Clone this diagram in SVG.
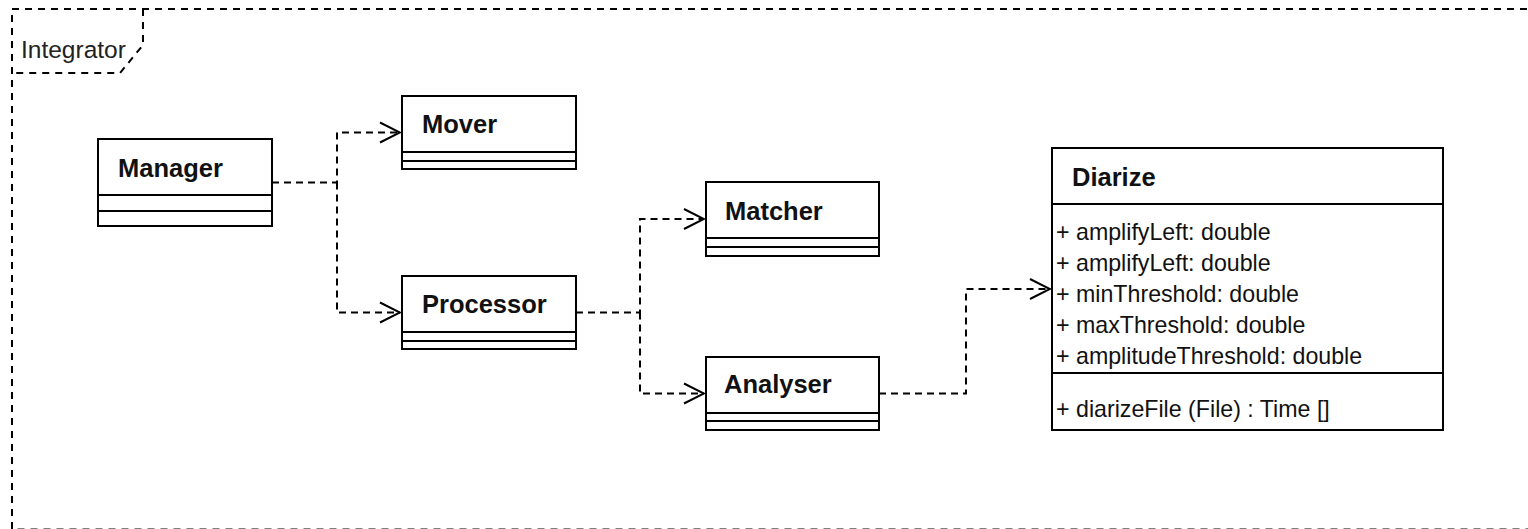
<svg xmlns="http://www.w3.org/2000/svg" width="1528" height="529" viewBox="0 0 1528 529">
  <defs>
    <style>
      .box { fill: #fff; stroke: #000; stroke-width: 2; }
      .sep { stroke: #000; stroke-width: 2; fill: none; }
      .name { font-family: "Liberation Sans", Arial, sans-serif; font-weight: bold; font-size: 25.5px; fill: #111; }
      .attr { font-family: "Liberation Sans", Arial, sans-serif; font-size: 23.2px; fill: #111; }
      .label { font-family: "Liberation Sans", Arial, sans-serif; font-size: 24.5px; fill: #222; }
      .frame { fill: none; stroke: #000; stroke-width: 2; stroke-dasharray: 7 6; }
      .dep { fill: none; stroke: #000; stroke-width: 2; stroke-dasharray: 7 5; }
    </style>
    <marker id="open" viewBox="-22 -12 24 24" refX="0" refY="0" markerWidth="24" markerHeight="24" markerUnits="userSpaceOnUse" orient="auto">
      <path d="M-20,-10 L0,0 L-20,10" fill="none" stroke="#000" stroke-width="2"/>
    </marker>
  </defs>
  <rect width="1528" height="529" fill="#fff"/>

  <!-- package frame "Integrator" -->
  <g id="frame">
    <rect class="frame" x="12" y="9" width="1540" height="520.5"/>
    <path class="frame" d="M143 9 V45 L120 73 H12"/>
    <text class="label" x="21" y="58">Integrator</text>
  </g>

  <!-- dependency connectors -->
  <g id="connectors">
    <path class="dep" d="M272 182.5 H337 V132.5 H400" marker-end="url(#open)"/>
    <path class="dep" d="M337 182.5 V312.5 H400" marker-end="url(#open)"/>
    <path class="dep" d="M576 312.5 H640 V219 H704" marker-end="url(#open)"/>
    <path class="dep" d="M640 312.5 V393.5 H704" marker-end="url(#open)"/>
    <path class="dep" d="M879 393.5 H966 V289 H1050" marker-end="url(#open)"/>
  </g>

  <g id="manager">
    <rect class="box" x="98" y="139" width="174" height="87"/>
    <path class="sep" d="M98 195 H272 M98 211 H272"/>
    <text class="name" x="118" y="177">Manager</text>
  </g>

  <g id="mover">
    <rect class="box" x="402" y="96" width="174" height="73"/>
    <path class="sep" d="M402 152 H576 M402 161 H576"/>
    <text class="name" x="422" y="133">Mover</text>
  </g>

  <g id="processor">
    <rect class="box" x="402" y="276" width="174" height="73"/>
    <path class="sep" d="M402 332 H576 M402 341 H576"/>
    <text class="name" x="422" y="313">Processor</text>
  </g>

  <g id="matcher">
    <rect class="box" x="706" y="182" width="173" height="74"/>
    <path class="sep" d="M706 238 H879 M706 247 H879"/>
    <text class="name" x="725" y="220">Matcher</text>
  </g>

  <g id="analyser">
    <rect class="box" x="706" y="357" width="173" height="73"/>
    <path class="sep" d="M706 413 H879 M706 421 H879"/>
    <text class="name" x="724" y="393">Analyser</text>
  </g>

  <g id="diarize">
    <rect class="box" x="1052" y="148" width="391" height="282"/>
    <path class="sep" d="M1052 204 H1443 M1052 373 H1443"/>
    <text class="name" x="1072" y="185.5">Diarize</text>
    <text class="attr" x="1056" y="240">+ amplifyLeft: double</text>
    <text class="attr" x="1056" y="271">+ amplifyLeft: double</text>
    <text class="attr" x="1056" y="302">+ minThreshold: double</text>
    <text class="attr" x="1056" y="333">+ maxThreshold: double</text>
    <text class="attr" x="1056" y="364">+ amplitudeThreshold: double</text>
    <text class="attr" x="1056" y="417">+ diarizeFile (File) : Time []</text>
  </g>
</svg>
